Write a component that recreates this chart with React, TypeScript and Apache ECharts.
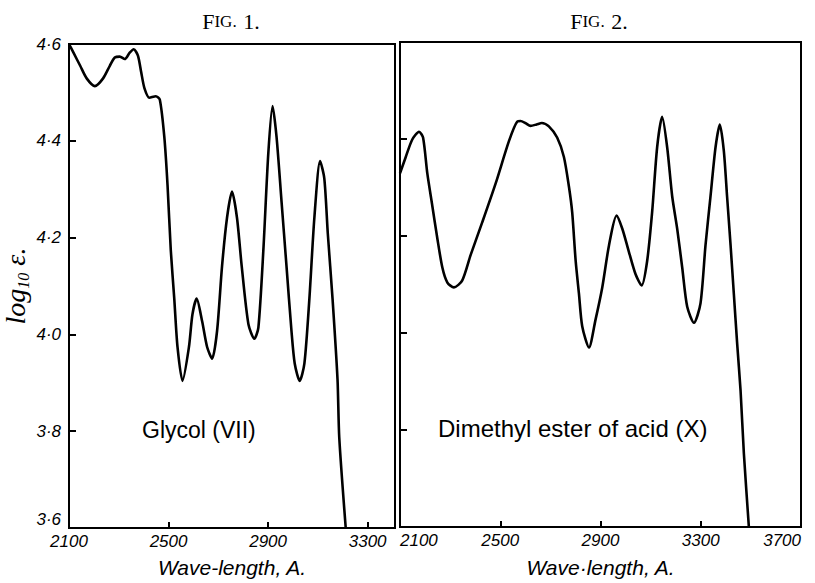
import React, { useEffect, useRef } from "react";
import * as echarts from "echarts";

// ---- data ----
const glycolX = [2100, 2118, 2145, 2171, 2204, 2237, 2264, 2284, 2304, 2324, 2344, 2360, 2377, 2390, 2403, 2423, 2449, 2465, 2483, 2496, 2509, 2523, 2536, 2556, 2582, 2596, 2613, 2635, 2655, 2675, 2695, 2715, 2735, 2755, 2775, 2794, 2821, 2845, 2861, 2881, 2901, 2918, 2934, 2954, 2974, 2994, 3007, 3027, 3046, 3066, 3086, 3109, 3126, 3140, 3159, 3179, 3186, 3212];
const glycolY = [4.600, 4.582, 4.555, 4.529, 4.513, 4.529, 4.555, 4.572, 4.574, 4.569, 4.582, 4.589, 4.576, 4.542, 4.509, 4.489, 4.492, 4.485, 4.408, 4.308, 4.174, 4.074, 3.974, 3.904, 3.974, 4.041, 4.074, 4.027, 3.974, 3.950, 4.007, 4.141, 4.241, 4.295, 4.241, 4.141, 4.021, 3.991, 4.014, 4.174, 4.375, 4.472, 4.408, 4.275, 4.141, 4.007, 3.940, 3.904, 3.940, 4.074, 4.241, 4.358, 4.322, 4.208, 4.074, 3.907, 3.787, 3.600];

const esterX = [2100, 2123, 2149, 2176, 2192, 2209, 2229, 2249, 2269, 2289, 2315, 2348, 2382, 2428, 2482, 2535, 2568, 2581, 2600, 2621, 2645, 2666, 2694, 2727, 2754, 2774, 2787, 2801, 2814, 2827, 2854, 2880, 2907, 2934, 2964, 2987, 3013, 3040, 3064, 3086, 3106, 3126, 3146, 3166, 3186, 3206, 3226, 3246, 3273, 3299, 3319, 3339, 3359, 3376, 3392, 3405, 3419, 3432, 3445, 3459, 3472, 3492];
const esterY = [4.329, 4.363, 4.399, 4.415, 4.403, 4.329, 4.262, 4.195, 4.135, 4.104, 4.094, 4.108, 4.161, 4.228, 4.309, 4.396, 4.436, 4.437, 4.433, 4.427, 4.430, 4.433, 4.426, 4.403, 4.363, 4.302, 4.249, 4.148, 4.081, 4.014, 3.970, 4.027, 4.094, 4.181, 4.242, 4.215, 4.168, 4.121, 4.098, 4.148, 4.249, 4.383, 4.446, 4.383, 4.282, 4.215, 4.135, 4.054, 4.021, 4.061, 4.181, 4.282, 4.383, 4.430, 4.376, 4.282, 4.181, 4.081, 3.980, 3.880, 3.752, 3.600];

const yTicks = [3.6, 3.8, 4.0, 4.2, 4.4, 4.6];
const yTickLabels = ["3·6", "3·8", "4·0", "4·2", "4·4", "4·6"];
const xTicksLeft = [2100, 2500, 2900, 3300];
const xTicksRight = [2100, 2500, 2900, 3300, 3700];

const seriesNames = ["Glycol (VII)", "Dimethyl ester of acid (X)"];
const xNames = ["Wave-length, A.", "Wave·length, A."];

const zip = (xs: number[], ys: number[]) => xs.map((x, i) => [x, ys[i]]);

const labelFont = {
  color: "#000",
  fontFamily: "Liberation Sans",
  fontStyle: "italic" as const,
  fontSize: 17,
};

function yLabel(v: number) {
  const i = yTicks.findIndex((t) => Math.abs(t - v) < 1e-6);
  return i >= 0 ? yTickLabels[i] : "";
}
function xLabelFor(list: number[]) {
  return (v: number) => (list.some((t) => Math.abs(t - v) < 1e-6) ? String(v) : "");
}

export default function App() {
  const ref = useRef<HTMLDivElement>(null);
  useEffect(() => {
    if (!ref.current) return;
    const chart = echarts.init(ref.current, null, { renderer: "svg" });
    const axisLine = { show: true, lineStyle: { color: "#000", width: 2 } };
    const nameStyle = { color: "#000", fontFamily: "Liberation Sans", fontStyle: "italic", fontSize: 21 };
    const titleRich = {
      b: { fontFamily: "Liberation Serif", fontSize: 22, fill: "#000" },
      c: { fontFamily: "Liberation Serif", fontSize: 17, fill: "#000" },
    };
    const option: any = {
      animation: false,
      backgroundColor: "#fff",
      grid: [
        { left: 65, top: 44, width: 330, height: 499, show: true, borderColor: "#000", borderWidth: 2 },
        { left: 400, top: 42, width: 401, height: 497, show: true, borderColor: "#000", borderWidth: 2 },
      ],
      xAxis: [
        {
          type: "value", gridIndex: 0, min: 2100, max: 3410, interval: 400,
          axisLine, splitLine: { show: false },
          axisTick: { show: true, inside: true, length: 6, lineStyle: { color: "#000", width: 2 } },
          axisLabel: { ...labelFont, margin: 5, showMaxLabel: false, formatter: xLabelFor(xTicksLeft) },
          name: xNames[0], nameLocation: "middle", nameGap: 29, nameTextStyle: nameStyle,
        },
        {
          type: "value", gridIndex: 1, min: 2100, max: 3700, interval: 400,
          axisLine, splitLine: { show: false },
          axisTick: { show: true, inside: true, length: 6, lineStyle: { color: "#000", width: 2 } },
          axisLabel: { ...labelFont, margin: 5, alignMinLabel: "left", alignMaxLabel: "right", formatter: xLabelFor(xTicksRight) },
          name: xNames[1], nameLocation: "middle", nameGap: 30, nameTextStyle: nameStyle,
        },
      ],
      yAxis: [
        {
          type: "value", gridIndex: 0, min: 3.6, max: 4.6, interval: 0.2,
          axisLine, splitLine: { show: false },
          axisTick: { show: true, inside: true, length: 7, lineStyle: { color: "#000", width: 2 } },
          axisLabel: { ...labelFont, fontSize: 17, margin: 8, verticalAlignMinLabel: "bottom", formatter: yLabel },
          name: "{a|log}{s|10}{a| ε.}", nameLocation: "middle", nameGap: 38,
          nameTextStyle: {
            color: "#000",
            rich: {
              a: { fontFamily: "Liberation Serif", fontStyle: "italic", fontSize: 28, color: "#000", lineHeight: 32 },
              s: { fontFamily: "Liberation Serif", fontStyle: "italic", fontSize: 16, color: "#000", verticalAlign: "bottom", lineHeight: 16, padding: [10, 0, 0, 0] },
            },
          },
        },
        {
          type: "value", gridIndex: 1, min: 3.6, max: 4.6, interval: 0.2,
          axisLine, splitLine: { show: false },
          axisTick: { show: true, inside: true, length: 7, lineStyle: { color: "#000", width: 2 } },
          axisLabel: { show: false },
        },
      ],
      series: [
        {
          name: seriesNames[0], type: "line", xAxisIndex: 0, yAxisIndex: 0,
          data: zip(glycolX, glycolY), showSymbol: false, smooth: 0.25,
          lineStyle: { color: "#000", width: 2.6 }, clip: true,
        },
        {
          name: seriesNames[1], type: "line", xAxisIndex: 1, yAxisIndex: 1,
          data: zip(esterX, esterY), showSymbol: false, smooth: 0.25,
          lineStyle: { color: "#000", width: 2.6 }, clip: true,
        },
      ],
      graphic: [
        {
          type: "text", x: 231, y: 21,
          style: { text: "{b|F}{c|IG.}  {b|1.}", align: "center", verticalAlign: "middle", rich: titleRich },
        },
        {
          type: "text", x: 599, y: 21,
          style: { text: "{b|F}{c|IG.}  {b|2.}", align: "center", verticalAlign: "middle", rich: titleRich },
        },
        {
          type: "text", x: 142, y: 430,
          style: { text: seriesNames[0], fontFamily: "Liberation Sans", fontSize: 23, fill: "#000", verticalAlign: "middle" },
        },
        {
          type: "text", x: 438, y: 428,
          style: { text: seriesNames[1], fontFamily: "Liberation Sans", fontSize: 24, fill: "#000", verticalAlign: "middle" },
        },
      ],
    };
    chart.setOption(option);
    return () => chart.dispose();
  }, []);
  return <div ref={ref} style={{ width: 815, height: 583, position: "absolute", left: 0, top: 0 }} />;
}
